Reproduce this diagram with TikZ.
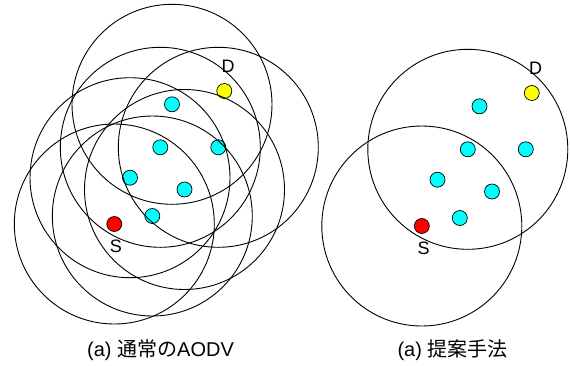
\documentclass[tikz,border=0pt]{standalone}
\usepackage{fontspec}
\setmainfont{Liberation Sans}
\newfontfamily\jpfont{Noto Sans CJK JP}
\definecolor{relaycol}{RGB}{0,255,255}
\definecolor{srccol}{RGB}{255,0,0}
\definecolor{dstcol}{RGB}{255,255,0}
\begin{document}
\begin{tikzpicture}[x=1pt,y=-1pt,
  rangecircle/.style={draw=black,line width=0.9pt},
  host/.style={circle,draw=black,line width=0.7pt,minimum size=15pt,inner sep=0pt},
  relay/.style={host,fill=relaycol},
  src/.style={host,fill=srccol},
  dst/.style={host,fill=dstcol},
  lbl/.style={font=\fontsize{18}{18}\selectfont,inner sep=0pt,anchor=base},
  captiontext/.style={font=\fontsize{20}{20}\selectfont,inner sep=0pt,anchor=base}]
\useasboundingbox (0,0) rectangle (570,365);
% ---- left panel: normal AODV ----
\begin{scope}
  \node[relay] (a1) at (172,104.3) {};
  \node[relay] (a2) at (160.3,147.3) {};
  \node[relay] (a3) at (218.3,147.3) {};
  \node[relay] (a4) at (130,177.7) {};
  \node[relay] (a5) at (184.5,189.5) {};
  \node[relay] (a6) at (152.3,216) {};
  \node[src] (aS) at (114.3,224) {};
  \node[dst] (aD) at (224.3,91) {};
  \foreach \n in {a1,a2,a3,a4,a5,a6,aS}{\draw[rangecircle] (\n.center) circle[radius=100];}
  \node[lbl] (aDl) at (228,72) {D};
  \node[lbl] (aSl) at (116,252.7) {S};
\end{scope}
% ---- right panel: proposed method ----
\begin{scope}[shift={(307.5,2)}]
  \node[relay] (b1) at (172,104.3) {};
  \node[relay] (b2) at (160.3,147.3) {};
  \node[relay] (b3) at (218.3,147.3) {};
  \node[relay] (b4) at (130,177.7) {};
  \node[relay] (b5) at (184.5,189.5) {};
  \node[relay] (b6) at (152.3,216) {};
  \node[src] (bS) at (114.3,224) {};
  \node[dst] (bD) at (224.3,91) {};
  \foreach \n in {b2,bS}{\draw[rangecircle] (\n.center) circle[radius=100];}
  \node[lbl] (bDl) at (228,72) {D};
  \node[lbl] (bSl) at (116,252.7) {S};
\end{scope}
\node[captiontext] (capA) at (160.5,356.5) {(a) {\jpfont 通常の}AODV};
\node[captiontext] (capB) at (452.5,356.5) {(a) {\jpfont 提案手法}};
\end{tikzpicture}
\end{document}
